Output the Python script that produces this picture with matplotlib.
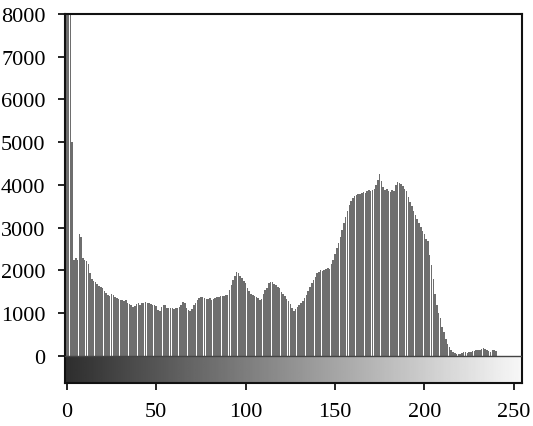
import numpy as np
import matplotlib
matplotlib.use("Agg")
import matplotlib.pyplot as plt

plt.rcParams['font.family'] = ['Liberation Serif', 'DejaVu Serif']

# pixel counts for each grey level 0..255
counts = [
    9500, 12000, 10500, 5000, 2250, 2280, 2250, 2850, 2780, 2300,
    2250, 2230, 2150, 1950, 1800, 1760, 1730, 1680, 1640, 1620,
    1580, 1520, 1480, 1430, 1400, 1460, 1420, 1380, 1350, 1330,
    1300, 1310, 1290, 1300, 1250, 1220, 1200, 1150, 1160, 1220,
    1240, 1200, 1230, 1250, 1260, 1250, 1240, 1220, 1200, 1180,
    1170, 1080, 1040, 1150, 1200, 1180, 1130, 1120, 1120, 1110,
    1100, 1120, 1130, 1150, 1200, 1260, 1230, 1120, 1080, 1060,
    1100, 1180, 1250, 1300, 1350, 1380, 1380, 1360, 1340, 1330,
    1350, 1320, 1330, 1350, 1380, 1390, 1400, 1400, 1410, 1430,
    1420, 1550, 1660, 1780, 1880, 1960, 1930, 1880, 1830, 1760,
    1700, 1600, 1530, 1460, 1420, 1400, 1380, 1360, 1320, 1330,
    1450, 1540, 1600, 1700, 1730, 1720, 1680, 1660, 1620, 1580,
    1500, 1450, 1400, 1330, 1290, 1220, 1120, 1050, 1100, 1150,
    1200, 1250, 1290, 1350, 1420, 1530, 1620, 1700, 1780, 1840,
    1930, 1960, 2000, 1990, 2020, 2030, 2050, 2040, 2150, 2250,
    2380, 2520, 2650, 2780, 2950, 3100, 3250, 3400, 3520, 3620,
    3700, 3740, 3760, 3780, 3790, 3820, 3840, 3800, 3860, 3880,
    3850, 3890, 3900, 4000, 4120, 4250, 4100, 3950, 3880, 3900,
    3860, 3830, 3880, 3850, 4000, 4060, 4050, 4020, 3970, 3900,
    3850, 3720, 3600, 3500, 3380, 3300, 3200, 3120, 3020, 2920,
    2850, 2740, 2680, 2350, 2120, 1800, 1450, 1200, 1000, 880,
    680, 560, 400, 280, 200, 130, 90, 70, 55, 45,
    50, 70, 85, 90, 80, 95, 100, 110, 120, 130,
    150, 140, 160, 180, 170, 150, 110, 100, 140, 150,
    120, 0, 0, 0, 0, 0, 0, 0, 0, 0,
    0, 0, 0, 0, 0, 0,
]
levels = np.arange(len(counts))
xticks = [0, 50, 100, 150, 200, 250]
yticks = [0, 1000, 2000, 3000, 4000, 5000, 6000, 7000, 8000]

fig = plt.figure(figsize=(5.33, 4.27), dpi=100)
ax = fig.add_axes([0.122, 0.101, 0.857, 0.864])

ax.bar(levels, counts, width=0.85, color='#6e6e6e', linewidth=0, zorder=2)

# grey ramp under the histogram
ramp = np.linspace(0.18, 0.97, 256).reshape(1, -1)
ax.imshow(ramp, cmap='gray', vmin=0, vmax=1, aspect='auto',
          extent=[-1, 254.5, -630, 0], zorder=1)
ax.axhline(0, color='#444444', lw=1.0, zorder=3)

ax.set_xlim(-1, 254.5)
ax.set_ylim(-630, 8000)
ax.set_xticks(xticks)
ax.set_yticks(yticks)
ax.tick_params(labelsize=16, length=5, width=1.2, direction='out', pad=9)
for s in ax.spines.values():
    s.set_linewidth(1.5)
    s.set_color('#111111')

fig.savefig('out.png', dpi=100)
